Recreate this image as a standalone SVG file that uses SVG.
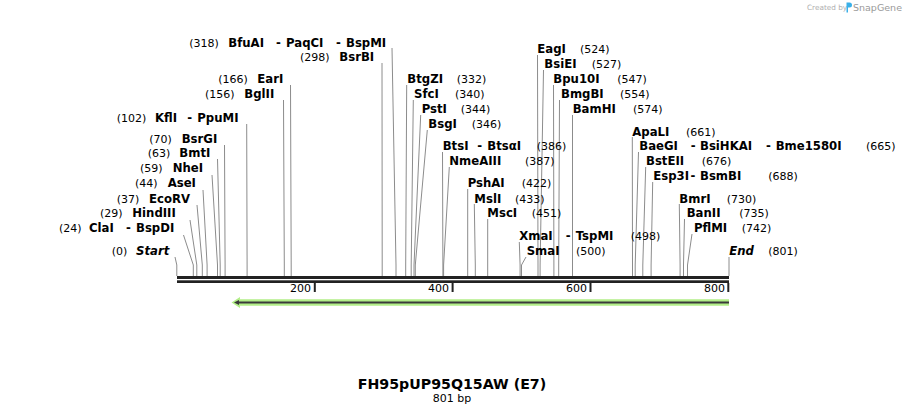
<svg xmlns="http://www.w3.org/2000/svg" width="906" height="415" viewBox="0 0 906 415">
<style>
text{font-family:"DejaVu Sans","Liberation Sans",sans-serif;fill:#000}
.n{font-weight:bold;font-size:11.7px}
.p{font-size:11px}
.e{font-weight:bold;font-style:italic;font-size:11.7px}
.c line,.c polyline{stroke:#8c8c8c;stroke-width:1;fill:none}
</style>
<rect width="906" height="415" fill="#fff"/>
<g id="credit">
<text x="807" y="10" style="font-size:7.3px;fill:#b0b0b0">Created by</text>
<path d="M846.5 2.5 h3 a2.5 2.5 0 0 1 0 5 h-1.5 v5 h-1.5z" fill="#3ab0e8"/>
<text x="853" y="11" style="font-size:9.5px;fill:#9a9a9a">SnapGene</text>
</g>
<g class="c" id="connectors">
<polyline points="392,48 396,265 396,276"/>
<polyline points="382,63 382.2,265 382.2,276"/>
<polyline points="290.5,85 291.2,265 291.2,276"/>
<polyline points="283.5,100 284.3,265 284.3,276"/>
<polyline points="246.7,124 247.1,265 247.1,276"/>
<polyline points="224.5,145 225.1,265 225.1,276"/>
<polyline points="217.5,159 220.2,265 220.2,276"/>
<polyline points="212,175 217.5,265 217.5,276"/>
<polyline points="203,190 207.1,265 207.1,276"/>
<polyline points="197,205 202.3,265 202.3,276"/>
<polyline points="190,220 196.8,265 196.8,276"/>
<polyline points="183.5,235 193.3,265 193.3,276"/>
<polyline points="175,257 176.8,265 176.8,276"/>
<polyline points="537.5,55 538,265 538,276"/>
<polyline points="543.5,70 540.1,265 540.1,276"/>
<polyline points="553.5,85 553.9,265 553.9,276"/>
<polyline points="559.5,100 558.7,265 558.7,276"/>
<polyline points="572.5,115 572.5,265 572.5,276"/>
<polyline points="406.7,85 405.7,265 405.7,276"/>
<polyline points="413.3,100 411.2,265 411.2,276"/>
<polyline points="420.7,115 414,265 414,276"/>
<polyline points="427.3,130 415.3,265 415.3,276"/>
<polyline points="442.5,152 442.9,265 442.9,276"/>
<polyline points="449.3,167 443.6,265 443.6,276"/>
<polyline points="467.7,189 467.7,265 467.7,276"/>
<polyline points="474.3,204 475.3,265 475.3,276"/>
<polyline points="487.7,219 487.7,265 487.7,276"/>
<polyline points="519.3,242 520.1,265 520.1,276"/>
<polyline points="526,257 521.5,265 521.5,276"/>
<polyline points="632.3,137 632.5,265 632.5,276"/>
<polyline points="638.5,152 635.2,265 635.2,276"/>
<polyline points="645.7,167 642.8,265 642.8,276"/>
<polyline points="652.7,182 651.1,265 651.1,276"/>
<polyline points="679.3,204 680.1,265 680.1,276"/>
<polyline points="684.5,219 683.5,265 683.5,276"/>
<polyline points="692,234 687.5,265 687.5,276"/>
<polyline points="729,257 729,265 729,276"/>
</g>
<g id="sequence">
<rect x="177" y="276" width="552" height="3" fill="#222"/>
<rect x="177" y="280.3" width="552" height="2.7" fill="#222"/>
<rect x="313.8" y="283" width="2" height="9" fill="#222"/>
<rect x="451.6" y="283" width="2" height="9" fill="#222"/>
<rect x="589.5" y="283" width="2" height="9" fill="#222"/>
<rect x="727.3" y="283" width="2" height="9" fill="#222"/>
<text class="p" x="311" y="292" text-anchor="end">200</text>
<text class="p" x="449" y="292" text-anchor="end">400</text>
<text class="p" x="587" y="292" text-anchor="end">600</text>
<text class="p" x="725" y="292" text-anchor="end">800</text>
</g>
<g id="feature">
<polygon points="729,299.3 240,299.3 240,297 231.5,302.5 240,308 240,305.7 729,305.7" fill="#b2ee88"/>
<line x1="237" y1="302.5" x2="729" y2="302.5" stroke="#3a3a3a" stroke-width="2.2"/>
<polygon points="234,302.5 239,300 239,305" fill="#3a3a3a"/>
</g>
<g id="n_BfuAI"><text class="p" x="189.3" y="46.7">(318)</text><text class="n" x="228.3" y="46.7">BfuAI</text><text class="n" x="276" y="46.7">-</text><text class="n" x="286" y="46.7">PaqCI</text><text class="n" x="336" y="46.7">-</text><text class="n" x="346" y="46.7">BspMI</text></g>
<g id="n_BsrBI"><text class="p" x="300" y="60.7">(298)</text><text class="n" x="339.3" y="60.7">BsrBI</text></g>
<g id="n_EarI"><text class="p" x="218.3" y="83.3">(166)</text><text class="n" x="257.3" y="83.3">EarI</text></g>
<g id="n_BglII"><text class="p" x="205" y="98.3">(156)</text><text class="n" x="244.3" y="98.3">BglII</text></g>
<g id="n_KflI"><text class="p" x="116.7" y="121.5">(102)</text><text class="n" x="155" y="121.5">KflI</text><text class="n" x="187.3" y="121.5">-</text><text class="n" x="197.3" y="121.5">PpuMI</text></g>
<g id="n_BsrGI"><text class="p" x="149.3" y="142.7">(70)</text><text class="n" x="181.7" y="142.7">BsrGI</text></g>
<g id="n_BmtI"><text class="p" x="147.7" y="157">(63)</text><text class="n" x="179.3" y="157">BmtI</text></g>
<g id="n_NheI"><text class="p" x="140" y="172.3">(59)</text><text class="n" x="172.7" y="172.3">NheI</text></g>
<g id="n_AseI"><text class="p" x="135" y="187.3">(44)</text><text class="n" x="167.7" y="187.3">AseI</text></g>
<g id="n_EcoRV"><text class="p" x="116.7" y="202.7">(37)</text><text class="n" x="149" y="202.7">EcoRV</text></g>
<g id="n_HindIII"><text class="p" x="100" y="217.3">(29)</text><text class="n" x="132.3" y="217.3">HindIII</text></g>
<g id="n_ClaI"><text class="p" x="59" y="232">(24)</text><text class="n" x="89" y="232">ClaI</text><text class="n" x="126" y="232">-</text><text class="n" x="136" y="232">BspDI</text></g>
<g id="n_Start"><text class="p" x="111.7" y="255">(0)</text><text class="e" x="136" y="255">Start</text></g>
<g id="n_EagI"><text class="n" x="537.3" y="53.3">EagI</text><text class="p" x="580" y="53.3">(524)</text></g>
<g id="n_BsiEI"><text class="n" x="544.3" y="67.7">BsiEI</text><text class="p" x="591.7" y="67.7">(527)</text></g>
<g id="n_Bpu10I"><text class="n" x="553.3" y="82.7">Bpu10I</text><text class="p" x="617.3" y="82.7">(547)</text></g>
<g id="n_BmgBI"><text class="n" x="561" y="97.7">BmgBI</text><text class="p" x="620" y="97.7">(554)</text></g>
<g id="n_BamHI"><text class="n" x="572.7" y="112.7">BamHI</text><text class="p" x="633" y="112.7">(574)</text></g>
<g id="n_BtgZI"><text class="n" x="407.3" y="82.7">BtgZI</text><text class="p" x="456.7" y="82.7">(332)</text></g>
<g id="n_SfcI"><text class="n" x="414" y="97.7">SfcI</text><text class="p" x="455" y="97.7">(340)</text></g>
<g id="n_PstI"><text class="n" x="421.7" y="112.7">PstI</text><text class="p" x="460.7" y="112.7">(344)</text></g>
<g id="n_BsgI"><text class="n" x="428.3" y="127.5">BsgI</text><text class="p" x="471.7" y="127.5">(346)</text></g>
<g id="n_BtsI"><text class="n" x="442.7" y="150">BtsI</text><text class="n" x="477.3" y="150">-</text><text class="n" x="487.3" y="150">BtsαI</text><text class="p" x="536.7" y="150">(386)</text></g>
<g id="n_NmeAIII"><text class="n" x="449.3" y="165">NmeAIII</text><text class="p" x="525" y="165">(387)</text></g>
<g id="n_PshAI"><text class="n" x="467.7" y="187.3">PshAI</text><text class="p" x="521.7" y="187.3">(422)</text></g>
<g id="n_MslI"><text class="n" x="474.3" y="202.7">MslI</text><text class="p" x="515" y="202.7">(433)</text></g>
<g id="n_MscI"><text class="n" x="487.3" y="217.3">MscI</text><text class="p" x="531.7" y="217.3">(451)</text></g>
<g id="n_XmaI"><text class="n" x="519.3" y="240">XmaI</text><text class="n" x="565.7" y="240">-</text><text class="n" x="575.7" y="240">TspMI</text><text class="p" x="630.7" y="240">(498)</text></g>
<g id="n_SmaI"><text class="n" x="526.7" y="255">SmaI</text><text class="p" x="576" y="255">(500)</text></g>
<g id="n_ApaLI"><text class="n" x="632.3" y="136">ApaLI</text><text class="p" x="686" y="136">(661)</text></g>
<g id="n_BaeGI"><text class="n" x="639.3" y="150.3">BaeGI</text><text class="n" x="690.7" y="150.3">-</text><text class="n" x="700" y="150.3">BsiHKAI</text><text class="n" x="766" y="150.3">-</text><text class="n" x="775.7" y="150.3">Bme1580I</text><text class="p" x="866" y="150.3">(665)</text></g>
<g id="n_BstEII"><text class="n" x="646" y="165">BstEII</text><text class="p" x="701.7" y="165">(676)</text></g>
<g id="n_Esp3I"><text class="n" x="653.3" y="180">Esp3I</text><text class="n" x="690.5" y="180">-</text><text class="n" x="700" y="180">BsmBI</text><text class="p" x="768.3" y="180">(688)</text></g>
<g id="n_BmrI"><text class="n" x="679.3" y="202.7">BmrI</text><text class="p" x="726.7" y="202.7">(730)</text></g>
<g id="n_BanII"><text class="n" x="686.7" y="217.3">BanII</text><text class="p" x="739.3" y="217.3">(735)</text></g>
<g id="n_PflMI"><text class="n" x="694" y="232">PflMI</text><text class="p" x="741.7" y="232">(742)</text></g>
<g id="n_End"><text class="e" x="729.3" y="255">End</text><text class="p" x="768.3" y="255">(801)</text></g>
<g id="title">
<text x="452" y="389" text-anchor="middle" style="font-weight:bold;font-size:14.2px">FH95pUP95Q15AW (E7)</text>
<text x="452" y="402" text-anchor="middle" style="font-size:11px">801 bp</text>
</g>
</svg>
